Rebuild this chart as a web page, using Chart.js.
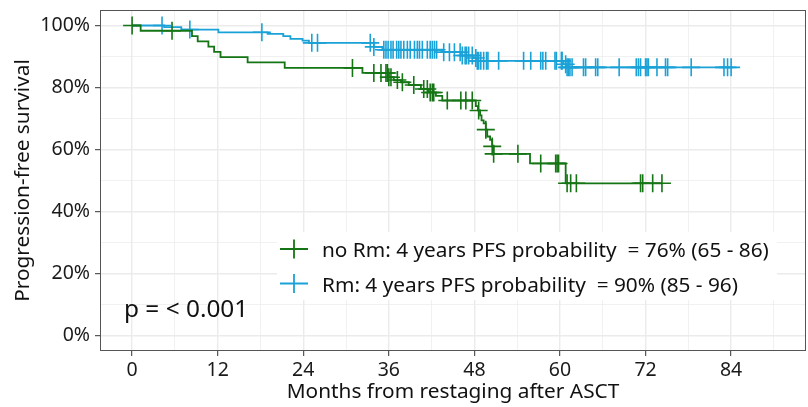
<!DOCTYPE html>
<html>
<head>
<meta charset="utf-8">
<script src="https://cdn.jsdelivr.net/npm/chart.js@4.4.1/dist/chart.umd.min.js"></script>
<style>
  html, body { margin: 0; padding: 0; background: #fff; }
  #wrap { width: 808px; height: 407px; position: relative; }
</style>
</head>
<body>
<div id="wrap"><canvas id="pfsChart"></canvas></div>
<script>
// axis ticks
const xTicks = [0, 12, 24, 36, 48, 60, 72, 84];
const yTicks = [0, 20, 40, 60, 80, 100];

// no Rm group: event times (months) and survival (%) after each drop, last point = end of follow-up
const noRmTimes = [0, 1.2, 8.4, 9.2, 10.7, 11.5, 12.4, 16.2, 21.4, 32.3, 36.0, 36.7, 37.7, 38.8, 40.5, 41.6, 42.6, 43.5,
  48.2, 48.5, 48.8, 49.0, 49.3, 49.6, 49.8, 50.2, 50.5, 50.7, 55.8, 60.8, 74.3];
const noRmSurv = [100, 98.3, 96.6, 94.9, 93.2, 91.5, 89.8, 88.1, 86.3, 84.7, 83.3, 82.4, 81.7, 80.8, 79.5, 78.4, 77.3, 75.8,
  74.0, 72.6, 71.0, 69.4, 68.4, 66.4, 64.2, 63.1, 61.0, 58.6, 55.5, 49.1, 49.1];
const noRmCensor = [0, 5.6, 30.9, 33.9, 34.9, 35.6, 35.8, 36.0, 36.3, 37.2, 37.9, 39.5, 40.9, 41.4, 41.8, 42.1, 42.3,
  44.2, 46.1, 46.8, 47.7, 48.6, 49.6, 50.5, 50.7, 54.1, 57.3, 59.4, 59.6, 59.8, 61.0, 61.5, 62.3, 71.3, 71.6, 73.0, 74.3];

// Rm group
const rmTimes = [0, 4.5, 6.9, 12.1, 19.0, 21.2, 22.2, 23.9, 24.8, 33.9, 35.1, 43.5, 46.1, 47.9, 48.4, 60.5, 61.0, 84.0];
const rmSurv = [100, 99.5, 98.7, 97.8, 97.3, 96.6, 95.7, 95.1, 94.4, 93.1, 92.2, 91.4, 90.3, 89.5, 88.6, 87.5, 86.5, 86.5];
const rmCensor = [4.2, 8.1, 18.2, 25.2, 26.0, 33.4, 33.9, 35.3, 35.6, 35.9, 36.3, 36.6, 37.1, 37.4, 37.7, 38.1, 38.6,
  39.0, 39.6, 40.0, 40.3, 40.7, 41.4, 41.8, 42.1, 42.4, 42.7, 43.7, 44.5, 45.2, 46.0, 46.3, 46.7, 46.9, 47.2, 47.7,
  48.2, 48.4, 48.6, 48.9, 49.3, 49.7, 49.9, 51.4, 54.9, 55.9, 57.3, 57.6, 58.0, 59.3, 59.5, 60.2, 60.3, 60.8, 61.0,
  61.2, 61.4, 61.7, 63.3, 63.6, 65.0, 65.3, 68.3, 70.7, 71.0, 71.3, 72.0, 72.2, 72.4, 73.6, 74.8, 75.1, 78.4, 83.0,
  83.5, 84.0];

const groupLabels = ['no Rm: 4 years PFS probability  = 76% (65 - 86)', 'Rm: 4 years PFS probability  = 90% (85 - 96)'];
const groupColors = ['#157515', '#1aa2d8'];
const pValueText = 'p = < 0.001';

const FONT = "'Noto Sans', 'Open Sans', sans-serif";

function survAt(times, surv, t) {
  let s = surv[0];
  for (let i = 0; i < times.length; i++) {
    if (times[i] <= t) s = surv[i];
  }
  return s;
}

function curve(times, surv) {
  return times.map((t, i) => ({ x: t, y: surv[i] }));
}

function censors(times, surv, cens) {
  return cens.map(t => ({ x: t, y: survAt(times, surv, t) }));
}

const panelDecor = {
  id: 'panelDecor',
  afterDraw(chart) {
    const ctx = chart.ctx;
    const a = chart.chartArea;
    ctx.save();
    // panel border
    ctx.strokeStyle = '#555';
    ctx.lineWidth = 1;
    ctx.strokeRect(Math.round(a.left) + 0.5, Math.round(a.top) + 0.5,
      Math.round(a.right - a.left) - 1, Math.round(a.bottom - a.top) - 1);

    // legend
    ctx.fillStyle = '#fff';
    ctx.fillRect(277, 232, 500, 68);
    const rows = [249, 283.5];
    rows.forEach((cy, i) => {
      ctx.strokeStyle = groupColors[i];
      ctx.lineWidth = 1.8;
      ctx.beginPath();
      ctx.moveTo(280, cy); ctx.lineTo(308, cy);
      ctx.moveTo(294, cy - 9.5); ctx.lineTo(294, cy + 9.5);
      ctx.stroke();
      ctx.fillStyle = '#111';
      ctx.font = '20.8px ' + FONT;
      ctx.textAlign = 'left';
      ctx.textBaseline = 'alphabetic';
      ctx.fillText(groupLabels[i], 322, cy + 8);
    });

    // p value
    ctx.font = '24.4px ' + FONT;
    ctx.fillStyle = '#111';
    ctx.fillText(pValueText, 124, 317);
    ctx.restore();
  }
};

const isMajorX = v => xTicks.includes(v);
const isMajorY = v => yTicks.includes(v);

new Chart(document.getElementById('pfsChart'), {
  type: 'scatter',
  data: {
    datasets: [
      {
        label: groupLabels[0],
        data: curve(noRmTimes, noRmSurv),
        showLine: true,
        stepped: true,
        borderColor: groupColors[0],
        borderWidth: 1.8,
        pointRadius: 0
      },
      {
        label: groupLabels[0] + ' censored',
        data: censors(noRmTimes, noRmSurv, noRmCensor),
        showLine: false,
        pointStyle: 'cross',
        pointRadius: 9,
        borderColor: groupColors[0],
        borderWidth: 1.6
      },
      {
        label: groupLabels[1],
        data: curve(rmTimes, rmSurv),
        showLine: true,
        stepped: true,
        borderColor: groupColors[1],
        borderWidth: 1.8,
        pointRadius: 0
      },
      {
        label: groupLabels[1] + ' censored',
        data: censors(rmTimes, rmSurv, rmCensor),
        showLine: false,
        pointStyle: 'cross',
        pointRadius: 9,
        borderColor: groupColors[1],
        borderWidth: 1.6
      }
    ]
  },
  options: {
    responsive: true,
    maintainAspectRatio: false,
    animation: false,
    layout: { autoPadding: false, padding: { top: 10, right: 2, left: 0, bottom: 0 } },
    plugins: {
      legend: { display: false },
      tooltip: { enabled: false }
    },
    scales: {
      x: {
        type: 'linear',
        min: -4.5,
        max: 94.5,
        afterBuildTicks: scale => {
          const t = [];
          for (let v = 0; v <= 90; v += 6) t.push({ value: v });
          scale.ticks = t;
        },
        afterFit: scale => {
          scale.height = 56;
          scale.paddingLeft = 0;
          scale.paddingRight = 0;
        },
        border: { display: false },
        grid: {
          color: '#ebebeb',
          lineWidth: c => (c.tick && isMajorX(c.tick.value)) ? 1.4 : 0.7,
          tickColor: c => (c.tick && isMajorX(c.tick.value)) ? '#333' : 'rgba(0,0,0,0)',
          tickLength: 5,
          tickWidth: 1
        },
        ticks: {
          autoSkip: false,
          maxRotation: 0,
          padding: 3,
          color: '#1a1a1a',
          font: { family: FONT, size: 19.5 },
          callback: v => isMajorX(v) ? String(v) : ''
        },
        title: {
          display: true,
          text: 'Months from restaging after ASCT',
          color: '#111',
          font: { family: FONT, size: 20.8 },
          padding: 2
        }
      },
      y: {
        type: 'linear',
        min: -5,
        max: 105,
        afterBuildTicks: scale => {
          const t = [];
          for (let v = 0; v <= 100; v += 10) t.push({ value: v });
          scale.ticks = t;
        },
        afterFit: scale => {
          scale.width = 100;
          scale.paddingTop = 0;
          scale.paddingBottom = 0;
        },
        border: { display: false },
        grid: {
          color: '#ebebeb',
          lineWidth: c => (c.tick && isMajorY(c.tick.value)) ? 1.4 : 0.7,
          tickColor: c => (c.tick && isMajorY(c.tick.value)) ? '#333' : 'rgba(0,0,0,0)',
          tickLength: 5,
          tickWidth: 1
        },
        ticks: {
          autoSkip: false,
          padding: 5,
          color: '#1a1a1a',
          font: { family: FONT, size: 19.5 },
          callback: v => isMajorY(v) ? v + '%' : ''
        },
        title: {
          display: true,
          text: 'Progression-free survival',
          color: '#111',
          font: { family: FONT, size: 20.8 },
          padding: 11
        }
      }
    }
  },
  plugins: [panelDecor]
});
</script>
</body>
</html>
